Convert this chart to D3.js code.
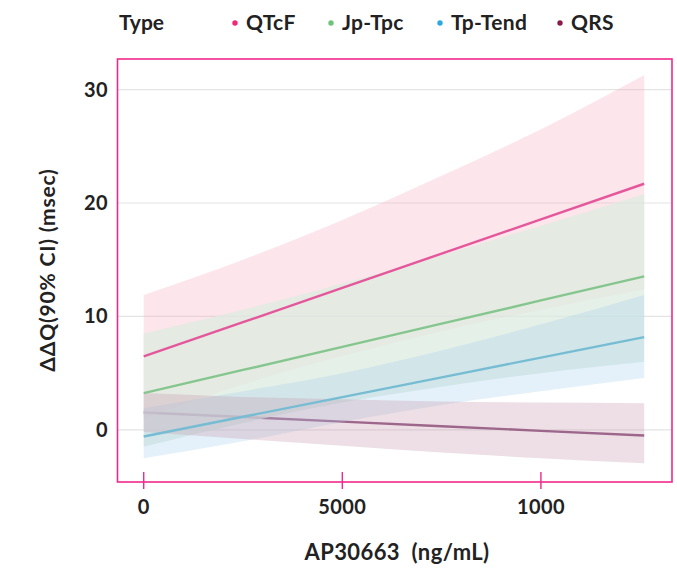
<!DOCTYPE html>
<html>
<head>
<meta charset="utf-8">
<script src="https://cdn.jsdelivr.net/npm/d3@7"></script>
<style>
  body { margin: 0; background: #fff; }
  text { font-family: Lato, "Open Sans", sans-serif; font-weight: 700; fill: #222; }
</style>
</head>
<body>
<div id="chart"></div>
<script>
// concentration grid (ng/mL) the fits were read at
const conc = [0, 2500, 5000, 7500, 10000, 12600];

const types = ["QTcF", "Jp-Tpc", "Tp-Tend", "QRS"];

// predicted ΔΔQ and 90% CI bounds per type
const qtcfFit = [6.47, 9.49, 12.51, 15.54, 18.56, 21.7];
const qtcfLow = [1.0, 4.0, 6.5, 8.7, 10.6, 12.4];
const qtcfHigh = [11.9, 15.0, 18.5, 22.4, 26.5, 31.3];

const jpFit = [3.24, 5.28, 7.32, 9.36, 11.41, 13.53];
const jpLow = [-1.5, 0.6, 2.4, 3.8, 5.0, 6.0];
const jpHigh = [8.5, 10.6, 12.9, 15.4, 18.0, 20.8];

const tpFit = [-0.59, 1.15, 2.89, 4.63, 6.37, 8.18];
const tpLow = [-2.5, -1.0, 0.7, 2.2, 3.4, 4.56];
const tpHigh = [1.9, 3.4, 5.0, 7.0, 9.3, 11.9];

const qrsFit = [1.53, 1.13, 0.72, 0.32, -0.09, -0.5];
const qrsLow = [-0.2, -0.8, -1.4, -2.0, -2.5, -2.95];
const qrsHigh = [3.24, 2.9, 2.7, 2.5, 2.4, 2.35];

const xTicks = [0, 5000, 10000];
const xTickLabels = ["0", "5000", "1000"];
const yTicks = [0, 10, 20, 30];

const lineColors = ["#e4589b", "#84c68d", "#76bcd3", "#8a4d7b"];
const bandColors = ["#f7a9c1", "#dcebe0", "#a6d2f0", "#c79aae"];
const bandOpacity = [0.3, 0.75, 0.3, 0.32];
const dotColors = ["#f0287a", "#6cc47a", "#29a9e0", "#8b1a4a"];

const series = [
  {fit: qtcfFit, low: qtcfLow, high: qtcfHigh},
  {fit: jpFit, low: jpLow, high: jpHigh},
  {fit: tpFit, low: tpLow, high: tpHigh},
  {fit: qrsFit, low: qrsLow, high: qrsHigh}
];

const W = 677, H = 572;
const panel = {left: 117.5, right: 672, top: 59, bottom: 482};

const svg = d3.select("#chart").append("svg")
  .attr("width", W)
  .attr("height", H);

const x = d3.scaleLinear()
  .domain([-660, 13300])
  .range([panel.left, panel.right]);

const y = d3.scaleLinear()
  .domain([-4.6, 32.7])
  .range([panel.bottom, panel.top]);

// gridlines
svg.append("g")
  .selectAll("line")
  .data(yTicks)
  .enter()
  .append("line")
  .attr("x1", panel.left)
  .attr("x2", panel.right)
  .attr("y1", d => y(d))
  .attr("y2", d => y(d))
  .attr("stroke", "#e4e4e4")
  .attr("stroke-width", 1.2);

const line = d3.line()
  .x((d, i) => x(conc[i]))
  .y(d => y(d));

const area = d3.area()
  .x(d => x(d.c))
  .y0(d => y(d.lo))
  .y1(d => y(d.hi))
  .curve(d3.curveMonotoneX);

function drawLine(k) {
  svg.append("path")
    .datum(series[k].fit)
    .attr("d", line)
    .attr("fill", "none")
    .attr("stroke", lineColors[k])
    .attr("stroke-width", 2.4);
}

// QRS line sits under the ribbons, the others on top
drawLine(3);

series.forEach((s, k) => {
  const pts = conc.map((c, i) => ({c: c, lo: s.low[i], hi: s.high[i]}));
  svg.append("path")
    .datum(pts)
    .attr("d", area)
    .attr("fill", bandColors[k])
    .attr("fill-opacity", bandOpacity[k]);
});

[0, 1, 2].forEach(drawLine);

// panel frame
svg.append("rect")
  .attr("x", panel.left)
  .attr("y", panel.top)
  .attr("width", panel.right - panel.left)
  .attr("height", panel.bottom - panel.top)
  .attr("fill", "none")
  .attr("stroke", "#f0288a")
  .attr("stroke-width", 1.6);

// x ticks
svg.append("g")
  .selectAll("line")
  .data(xTicks)
  .enter()
  .append("line")
  .attr("x1", d => x(d))
  .attr("x2", d => x(d))
  .attr("y1", panel.bottom - 10)
  .attr("y2", panel.bottom + 7)
  .attr("stroke", "#f0288a")
  .attr("stroke-width", 1.4);

svg.append("g")
  .selectAll("text")
  .data(xTicks)
  .enter()
  .append("text")
  .attr("x", d => x(d))
  .attr("y", 514)
  .attr("text-anchor", "middle")
  .style("font-size", "20px")
  .style("letter-spacing", "0.4px")
  .text((d, i) => xTickLabels[i]);

svg.append("g")
  .selectAll("text")
  .data(yTicks)
  .enter()
  .append("text")
  .attr("x", 108)
  .attr("y", d => y(d) + 7)
  .attr("text-anchor", "end")
  .style("font-size", "20px")
  .style("letter-spacing", "0.4px")
  .text(d => d);

// axis titles
svg.append("text")
  .attr("x", 397)
  .attr("y", 560)
  .attr("text-anchor", "middle")
  .style("font-size", "22px")
  .style("letter-spacing", "0.4px")
  .style("white-space", "pre")
  .text("AP30663  (ng/mL)");

svg.append("text")
  .attr("transform", "translate(55,270) rotate(-90)")
  .attr("text-anchor", "middle")
  .style("font-size", "21px")
  .style("letter-spacing", "0.8px")
  .style("white-space", "pre")
  .text("ΔΔQ(90% CI) (msec)");

// legend
const legendDotX = [235, 331, 440, 560];
const legend = svg.append("g");
legend.append("text")
  .attr("x", 119)
  .attr("y", 30)
  .style("font-size", "21px")
  .text("Type");

types.forEach((t, k) => {
  legend.append("circle")
    .attr("cx", legendDotX[k])
    .attr("cy", 23)
    .attr("r", 2.7)
    .attr("fill", dotColors[k]);
  legend.append("text")
    .attr("x", legendDotX[k] + 11)
    .attr("y", 30)
    .style("font-size", "21px")
    .style("letter-spacing", "0.3px")
    .text(t);
});
</script>
</body>
</html>
